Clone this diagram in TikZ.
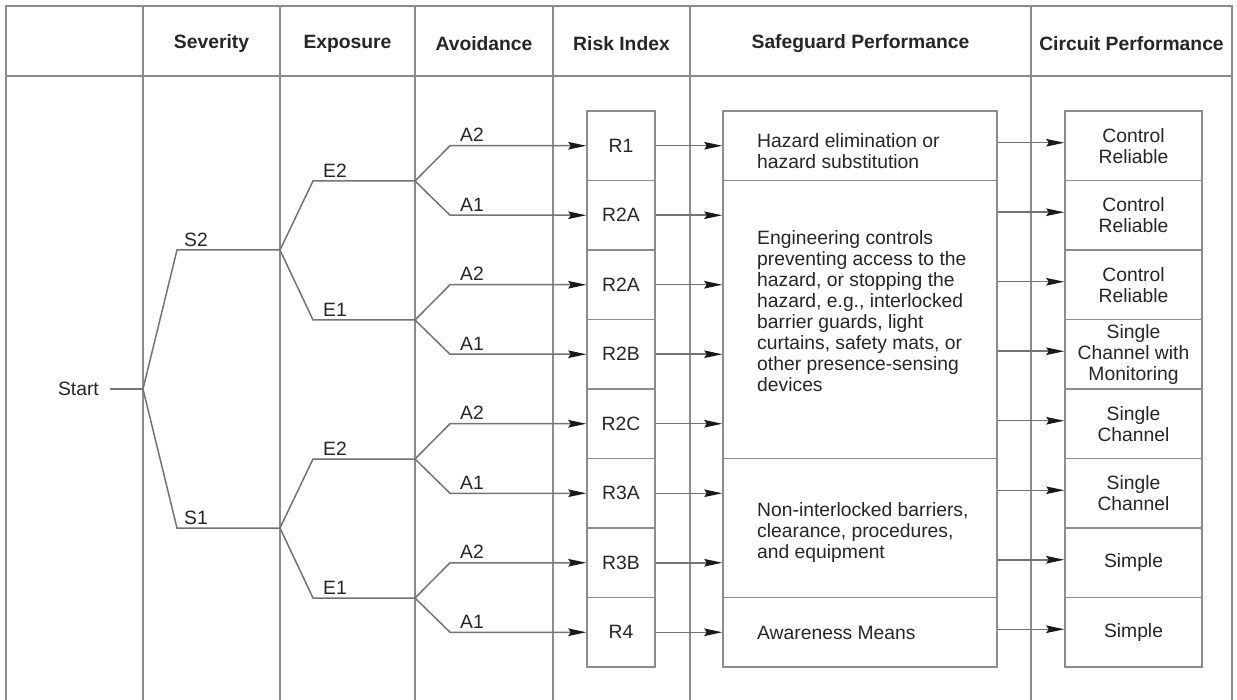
\documentclass[tikz,border=0pt]{standalone}
\usepackage{fontspec}
\setmainfont{Liberation Sans}
\usetikzlibrary{arrows.meta}
\definecolor{tline}{gray}{0.55}
\definecolor{trline}{gray}{0.45}
\definecolor{txt}{gray}{0.15}
\begin{document}
\begin{tikzpicture}[x=1pt,y=-1pt,
  grid/.style={draw=tline, line width=1.5pt},
  tree/.style={draw=trline, line width=1.5pt},
  arr/.style={tree, -{Stealth[length=18pt,width=7.5pt,inset=2.5pt,color=black!90]}},
  lbl/.style={text=txt, font=\fontsize{19.3}{21}\selectfont, inner sep=0pt},
  hdr/.style={text=txt, font=\bfseries\fontsize{19.3}{21}\selectfont, inner sep=0pt},
  box/.style={draw=tline, line width=1.5pt, rectangle, inner sep=0pt, text=txt,
     font=\fontsize{19.3}{21}\selectfont, align=center},
  rbox/.style={box, minimum width=68pt, minimum height=69.5pt},
  cbox/.style={box, minimum width=137pt, minimum height=69.5pt},
]
\useasboundingbox (0,0) rectangle (1237,700);
\fill[white] (0,0) rectangle (1237,700);

% ---------- table grid ----------
\draw[grid] (6,700) -- (6,6) -- (1232,6) -- (1232,700);
\draw[grid] (6,76) -- (1232,76);
\foreach \cx in {143,280,415,553,690,1031} { \draw[grid] (\cx,6) -- (\cx,700); }

% ---------- headers ----------
\node[hdr] (hsev) at (211.5,44) {Severity};
\node[hdr] (hexp) at (347.5,44) {Exposure};
\node[hdr] (havo) at (484,44) {Avoidance};
\node[hdr] (hrisk) at (621.5,44) {Risk Index};
\node[hdr] (hsafe) at (860.5,44) {Safeguard Performance};
\node[hdr] (hcirc) at (1131.5,44) {Circuit Performance};

% ---------- risk index boxes ----------
\node[rbox] (r1)   at (621,145.75) {R1};
\node[rbox] (r2a)  at (621,215.25) {R2A};
\node[rbox] (r2aa) at (621,284.75) {R2A};
\node[rbox] (r2b)  at (621,354.25) {R2B};
\node[rbox] (r2c)  at (621,423.75) {R2C};
\node[rbox] (r3a)  at (621,493.25) {R3A};
\node[rbox] (r3b)  at (621,562.75) {R3B};
\node[rbox] (r4)   at (621,632.25) {R4};

% ---------- safeguard boxes ----------
\node[box, minimum width=274pt, minimum height=69.5pt]  (sg1) at (860,145.75) {};
\node[box, minimum width=274pt, minimum height=278pt]   (sg2) at (860,319.5) {};
\node[box, minimum width=274pt, minimum height=139pt]   (sg3) at (860,528) {};
\node[box, minimum width=274pt, minimum height=69.5pt]  (sg4) at (860,632.25) {};
\node[lbl, anchor=west, align=left] (sg1t) at (757,151) {Hazard elimination or\\hazard substitution};
\node[lbl, anchor=west, align=left] (sg2t) at (757,311) {Engineering controls\\preventing access to the\\hazard, or stopping the\\hazard, e.g., interlocked\\barrier guards, light\\curtains, safety mats, or\\other presence-sensing\\devices};
\node[lbl, anchor=west, align=left] (sg3t) at (757,533) {Non-interlocked barriers,\\clearance, procedures,\\and equipment};
\node[lbl, anchor=west, align=left] (sg4t) at (757,633) {Awareness Means};

% ---------- circuit boxes ----------
\node[cbox] (c1) at (1133.5,145.75) {Control\\Reliable};
\node[cbox] (c2) at (1133.5,215.25) {Control\\Reliable};
\node[cbox] (c3) at (1133.5,284.75) {Control\\Reliable};
\node[cbox] (c4) at (1133.5,354.25) {Single\\Channel with\\Monitoring};
\node[cbox] (c5) at (1133.5,423.75) {Single\\Channel};
\node[cbox] (c6) at (1133.5,493.25) {Single\\Channel};
\node[cbox] (c7) at (1133.5,562.75) {Simple};
\node[cbox] (c8) at (1133.5,632.25) {Simple};

% ---------- tree ----------
\node[lbl, anchor=east] (start) at (99,389) {Start};
\coordinate (root) at (143,389);
\coordinate (s2c) at (177,250); \coordinate (s2e) at (280,250);
\coordinate (s1c) at (177,528); \coordinate (s1e) at (280,528);
\coordinate (e2uc) at (313,181); \coordinate (e2ue) at (415,181);
\coordinate (e1uc) at (313,320); \coordinate (e1ue) at (415,320);
\coordinate (e2lc) at (313,459); \coordinate (e2le) at (415,459);
\coordinate (e1lc) at (313,598); \coordinate (e1le) at (415,598);
\coordinate (a1) at (450,145.75);
\coordinate (a2) at (450,215.25);
\coordinate (a3) at (450,284.75);
\coordinate (a4) at (450,354.25);
\coordinate (a5) at (450,423.75);
\coordinate (a6) at (450,493.25);
\coordinate (a7) at (450,562.75);
\coordinate (a8) at (450,632.25);

\draw[tree] ([xshift=11pt]start.east) -- (root);
\draw[tree] (s2e) -- (s2c) -- (root) -- (s1c) -- (s1e);
\draw[tree] (e2ue) -- (e2uc) -- (s2e) -- (e1uc) -- (e1ue);
\draw[tree] (e2le) -- (e2lc) -- (s1e) -- (e1lc) -- (e1le);

\draw[arr] (e2ue) -- (a1) -- (r1.west);
\draw[arr] (e2ue) -- (a2) -- (r2a.west);
\draw[arr] (e1ue) -- (a3) -- (r2aa.west);
\draw[arr] (e1ue) -- (a4) -- (r2b.west);
\draw[arr] (e2le) -- (a5) -- (r2c.west);
\draw[arr] (e2le) -- (a6) -- (r3a.west);
\draw[arr] (e1le) -- (a7) -- (r3b.west);
\draw[arr] (e1le) -- (a8) -- (r4.west);

% tree labels
\node[lbl, anchor=south west] (ls2) at (184,247) {S2};
\node[lbl, anchor=south west] (ls1) at (184,525) {S1};
\node[lbl, anchor=south west] (le2u) at (323,177.5) {E2};
\node[lbl, anchor=south west] (le1u) at (323,316.5) {E1};
\node[lbl, anchor=south west] (le2l) at (323,455.5) {E2};
\node[lbl, anchor=south west] (le1l) at (323,594.5) {E1};
\node[lbl, anchor=south west] (la1) at (460,142) {A2};
\node[lbl, anchor=south west] (la2) at (460,211.5) {A1};
\node[lbl, anchor=south west] (la3) at (460,281) {A2};
\node[lbl, anchor=south west] (la4) at (460,350.5) {A1};
\node[lbl, anchor=south west] (la5) at (460,420) {A2};
\node[lbl, anchor=south west] (la6) at (460,489.5) {A1};
\node[lbl, anchor=south west] (la7) at (460,559) {A2};
\node[lbl, anchor=south west] (la8) at (460,628.5) {A1};

% ---------- risk -> safeguard ----------
\draw[arr] (r1.east)   -- (r1.east -| sg1.west);
\draw[arr] (r2a.east)  -- (r2a.east -| sg2.west);
\draw[arr] (r2aa.east) -- (r2aa.east -| sg2.west);
\draw[arr] (r2b.east)  -- (r2b.east -| sg2.west);
\draw[arr] (r2c.east)  -- (r2c.east -| sg2.west);
\draw[arr] (r3a.east)  -- (r3a.east -| sg3.west);
\draw[arr] (r3b.east)  -- (r3b.east -| sg3.west);
\draw[arr] (r4.east)   -- (r4.east -| sg4.west);

% ---------- safeguard -> circuit ----------
\foreach \c in {1,...,8} { \coordinate (cin\c) at ([yshift=3pt]c\c.west); }
\draw[arr] (cin1 -| sg1.east) -- (cin1);
\draw[arr] (cin2 -| sg2.east) -- (cin2);
\draw[arr] (cin3 -| sg2.east) -- (cin3);
\draw[arr] (cin4 -| sg2.east) -- (cin4);
\draw[arr] (cin5 -| sg2.east) -- (cin5);
\draw[arr] (cin6 -| sg3.east) -- (cin6);
\draw[arr] (cin7 -| sg3.east) -- (cin7);
\draw[arr] (cin8 -| sg4.east) -- (cin8);
\end{tikzpicture}
\end{document}
